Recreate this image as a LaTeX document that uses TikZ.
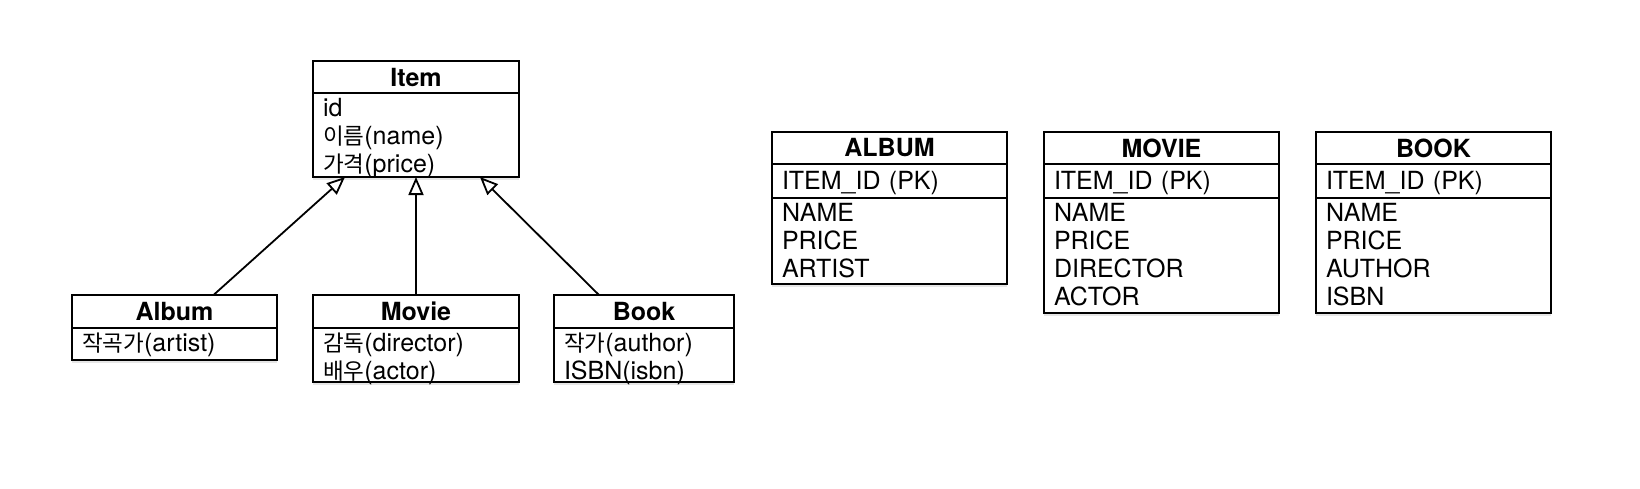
\documentclass[tikz,border=0pt]{standalone}
\usepackage{fontspec}
\setmainfont{TeX Gyre Heros}
\newfontfamily\krfont[Scale=0.9]{Noto Sans CJK KR}
\newcommand{\hg}[1]{{\krfont #1}}
\usetikzlibrary{arrows.meta,shadows}

\begin{document}
\begin{tikzpicture}[x=1pt,y=-1pt,
  box/.style={draw=black, line width=1.8pt, fill=white, inner sep=0pt, outer sep=0pt,
    drop shadow={shadow xshift=0pt, shadow yshift=-3pt, opacity=0.2}},
  hd/.style={box, font=\fontsize{25}{28}\selectfont\bfseries},
  bd/.style={box, align=left, inner xsep=10pt, text height=23pt, font=\fontsize{25}{28}\selectfont},
  inh/.style={line width=1.8pt, -{Triangle[open, length=18pt, width=15pt]}}]
\useasboundingbox (0,0) rectangle (1640,488);
% class diagram
\node[hd, minimum width=206pt, minimum height=32pt, anchor=north west] (item) at (313,61) {Item};
\node[bd, text width=186pt, text depth=61pt, anchor=north] (itemb) at (item.south) {id\\\hg{이름}(name)\\\hg{가격}(price)};
\node[hd, minimum width=205pt, minimum height=33pt, anchor=north west] (album) at (72,295) {Album};
\node[bd, text width=185pt, text depth=9pt, anchor=north] (albumb) at (album.south) {\hg{작곡가}(artist)};
\node[hd, minimum width=206pt, minimum height=33pt, anchor=north west] (movie) at (313,295) {Movie};
\node[bd, text width=186pt, text depth=31pt, anchor=north] (movieb) at (movie.south) {\hg{감독}(director)\\\hg{배우}(actor)};
\node[hd, minimum width=180pt, minimum height=33pt, anchor=north west] (book) at (554,295) {Book};
\node[bd, text width=160pt, text depth=31pt, anchor=north] (bookb) at (book.south) {\hg{작가}(author)\\ISBN(isbn)};
\draw[inh] ([xshift=39pt]album.north) -- ([xshift=-71pt]itemb.south);
\draw[inh] (movie.north) -- (itemb.south);
\draw[inh] ([xshift=-45pt]book.north) -- ([xshift=64pt]itemb.south);
% tables
\node[hd, minimum width=235pt, minimum height=32pt, anchor=north west] (talbum) at (772,132) {ALBUM};
\node[bd, text width=215pt, text height=25pt, text depth=9pt, anchor=north] (talbumk) at (talbum.south) {ITEM\_ID (PK)};
\node[bd, text width=215pt, text depth=63pt, anchor=north] (talbumb) at (talbumk.south) {NAME\\PRICE\\ARTIST};
\node[hd, minimum width=235pt, minimum height=32pt, anchor=north west] (tmovie) at (1044,132) {MOVIE};
\node[bd, text width=215pt, text height=25pt, text depth=9pt, anchor=north] (tmoviek) at (tmovie.south) {ITEM\_ID (PK)};
\node[bd, text width=215pt, text depth=92pt, anchor=north] (tmovieb) at (tmoviek.south) {NAME\\PRICE\\DIRECTOR\\ACTOR};
\node[hd, minimum width=235pt, minimum height=32pt, anchor=north west] (tbook) at (1316,132) {BOOK};
\node[bd, text width=215pt, text height=25pt, text depth=9pt, anchor=north] (tbookk) at (tbook.south) {ITEM\_ID (PK)};
\node[bd, text width=215pt, text depth=92pt, anchor=north] (tbookb) at (tbookk.south) {NAME\\PRICE\\AUTHOR\\ISBN};
\end{tikzpicture}
\end{document}
